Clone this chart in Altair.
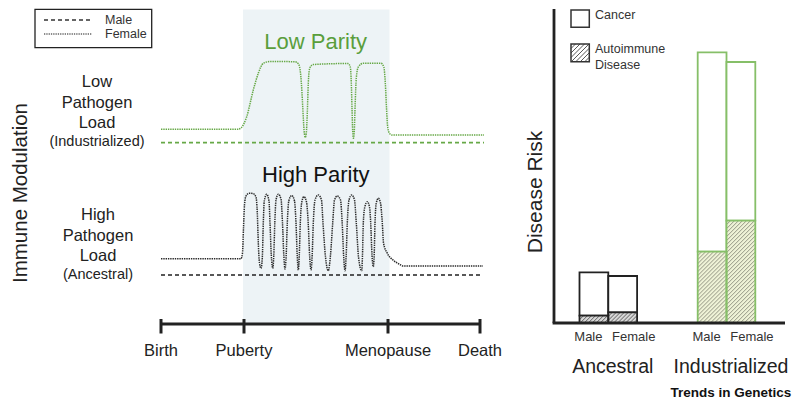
import altair as alt
import pandas as pd

FONT = "Arial, 'Liberation Sans', sans-serif"
GREEN_LINE = "#66a846"
GREEN_TEXT = "#5a9e3c"
GREEN_BAR = "#86bf68"
BLUE_SHADE = "#edf3f6"
DARK = "#222222"

W, H = 784, 391

# ---------------- Left panel data ----------------
# x: life-course position (arbitrary units), y: immune modulation level (arbitrary units)
stages = ["Birth", "Puberty", "Menopause", "Death"]
stage_pos = [0, 83, 227, 319]

low_male_x = [0, 323]
low_male_y = [180.3, 180.3]
low_female_x = [0, 77, 80, 85.7, 92.3, 97.3, 102.3, 109, 134, 137.5,
                139.5, 141, 142.3, 143.3, 144.3, 145.3, 146.3, 147.3, 148.8, 152.3,
                187, 189.3, 190.3, 191, 191.7, 192.5, 193.3, 194.2, 195.3, 197.3,
                202.3, 220, 222.8, 224.3, 225.5, 226.8, 229, 231, 323]
low_female_y = [193.7, 193.7, 195, 206.3, 233, 249.7, 259.7, 261.5, 261.3, 259,
                250, 230, 205, 190, 185.7, 190, 210, 240, 255, 258.5,
                259.5, 256, 240, 215, 192, 184.7, 192, 220, 245, 256,
                259.7, 259.7, 256, 240, 215, 195, 189, 188, 188]

high_male_x = [0, 322]
high_male_y = [48, 48]
high_female_x = [0, 80, 81.5, 82.5, 83.5, 85, 88, 92, 95, 96.3, 97.3, 98.5, 100,
                 101.3, 102.3, 103.3, 105.7, 108, 109, 110.3, 111.7,
                 112.8, 113.8, 115, 117.3, 120, 121.5, 122.8, 124,
                 125.2, 126.3, 127.8, 130.7, 133.5, 135, 136.2, 137.3,
                 138.3, 139.3, 140.8, 143, 145.5, 147.2, 148.7, 150,
                 151.2, 152.3, 154, 157.3, 160.5, 162, 164.5, 167.3,
                 169.5, 171.7, 173.5, 176.3, 179.5, 181.2, 182.7, 184,
                 185.2, 186.3, 188, 190.7, 193.5, 195.3, 197.5, 200.7,
                 201.5, 202.3, 203.8, 206.3, 208.5, 209.7, 211, 212.3,
                 213.2, 214, 215.3, 217.3, 219.5, 221.3, 222.5, 226.3, 232, 238, 242.3, 322]
high_female_y = [64.3, 64.3, 70, 95, 118, 127, 129.7, 129.5, 126, 110, 80, 60, 54.7,
                 65, 100, 122, 128.7, 122, 100, 68, 54.7,
                 68, 100, 123, 128.7, 124, 100, 68, 54,
                 68, 100, 122, 127.5, 122, 100, 68, 53,
                 68, 100, 121, 126.3, 121, 100, 66, 53,
                 68, 100, 123, 128, 123, 100, 66, 52.3,
                 68, 100, 123, 127, 123, 100, 66, 52.3,
                 68, 100, 123, 128, 123, 100, 66, 52.3,
                 68, 100, 116, 121.3, 116, 100, 68, 56.3,
                 68, 100, 120, 124.7, 120, 100, 80, 69.7, 63, 59, 57, 57]

low_load_label = ["Low", "Pathogen", "Load"]
low_load_sub = "(Industrialized)"
high_load_label = ["High", "Pathogen", "Load"]
high_load_sub = "(Ancestral)"

# ---------------- Right panel data ----------------
groups = ["Ancestral", "Industrialized"]
sexes = ["Male", "Female"]
autoimmune_risk = [7.3, 10.7, 71.3, 102.3]
cancer_risk = [43.4, 36.3, 199.4, 158.7]

# ---------------- Scales (layout) ----------------
LX = alt.Scale(domain=[-153, 631], nice=False, zero=False)
RX = alt.Scale(domain=[-546, 238], nice=False, zero=False)
YS = alt.Scale(domain=[-76, 315], nice=False, zero=False)


def X(s, f="x"):
    return alt.X(f"{f}:Q", scale=s, axis=None)


def Y(f="y"):
    return alt.Y(f"{f}:Q", scale=YS, axis=None)


def text_layer(xs_scale, xs, ys, texts, **kw):
    df = pd.DataFrame({"x": xs, "y": ys, "t": texts})
    return alt.Chart(df).mark_text(font=FONT, **kw).encode(x=X(xs_scale), y=Y(), text="t:N")


def line_layer(xs, ys, **kw):
    df = pd.DataFrame({"x": xs, "y": ys})
    return alt.Chart(df).mark_line(**kw).encode(x=X(LX), y=Y())


def rect_layer(xs_scale, df, **kw):
    return alt.Chart(df).mark_rect(**kw).encode(
        x=X(xs_scale, "x0"), x2=alt.X2("x1:Q"), y=Y("y0"), y2=alt.Y2("y1:Q"))


def hatch(x0, x1, y0, y1, step=4.0):
    segs = []
    c = x0 - y1
    while c < x1 - y0:
        xs = max(x0, y0 + c)
        xe = min(x1, y1 + c)
        if xe > xs:
            segs.append((xs, xs - c, xe, xe - c))
        c += step
    return segs


# ---------------- Left layers ----------------
left_layers = []
left_layers.append(rect_layer(LX, pd.DataFrame({"x0": [stage_pos[1] - 1], "x1": [stage_pos[2] + 1.5],
                                                 "y0": [0], "y1": [313.5]}), color=BLUE_SHADE))
# legend box
left_layers.append(rect_layer(LX, pd.DataFrame({"x0": [-126], "x1": [-9.3], "y0": [275.3], "y1": [313.7]}),
                              fill="white", stroke=DARK, strokeWidth=1.3))
left_layers.append(line_layer([-117, -69], [303, 303], color="#333", strokeDash=[4, 3], strokeWidth=1.3))
left_layers.append(line_layer([-117, -69], [289, 289], color="#666", strokeDash=[1.3, 1], strokeWidth=1.3))
left_layers.append(text_layer(LX, [-56, -56], [303, 289], ["Male", "Female"], fontSize=12.5,
                              align="left", baseline="middle", color="#333"))
# curves
left_layers.append(line_layer(low_male_x, low_male_y, color=GREEN_LINE, strokeDash=[4, 3], strokeWidth=1.7))
left_layers.append(line_layer(low_female_x, low_female_y, color=GREEN_LINE, strokeDash=[1.4, 0.9],
                              strokeWidth=1.5, interpolate="monotone"))
left_layers.append(line_layer(high_male_x, high_male_y, color="#222", strokeDash=[4, 3], strokeWidth=1.5))
left_layers.append(line_layer(high_female_x, high_female_y, color="#2a2a2a", strokeDash=[1.4, 0.9],
                              strokeWidth=1.5, interpolate="monotone"))
# timeline
tl = pd.DataFrame({"x": [stage_pos[0]], "x2": [stage_pos[-1]], "y": [-1]})
left_layers.append(alt.Chart(tl).mark_rule(color=DARK, strokeWidth=3).encode(
    x=X(LX), x2=alt.X2("x2:Q"), y=Y()))
ticks = pd.DataFrame({"x": stage_pos, "y": [4] * 4, "y2": [-10.5] * 4})
left_layers.append(alt.Chart(ticks).mark_rule(color=DARK, strokeWidth=3).encode(
    x=X(LX), y=Y(), y2=alt.Y2("y2:Q")))
left_layers.append(text_layer(LX, stage_pos, [-27.7] * 4, stages, fontSize=16.5,
                              align="center", baseline="middle", color="#222"))
# parity labels
left_layers.append(text_layer(LX, [154.7], [281.3], ["Low Parity"], fontSize=22,
                              align="center", baseline="middle", color=GREEN_TEXT))
left_layers.append(text_layer(LX, [154.8], [148], ["High Parity"], fontSize=22,
                              align="center", baseline="middle", color="#111"))
# pathogen load labels
left_layers.append(text_layer(LX, [-64] * 3, [241.3, 219.7, 199.7], low_load_label, fontSize=16.5,
                              align="center", baseline="middle", color="#222"))
left_layers.append(text_layer(LX, [-64], [181.3], [low_load_sub], fontSize=14.5,
                              align="center", baseline="middle", color="#222"))
left_layers.append(text_layer(LX, [-63] * 3, [108, 87, 67], high_load_label, fontSize=16.5,
                              align="center", baseline="middle", color="#222"))
left_layers.append(text_layer(LX, [-63], [48], [high_load_sub], fontSize=14.5,
                              align="center", baseline="middle", color="#222"))
left_layers.append(text_layer(LX, [-140], [130], ["Immune Modulation"], fontSize=20.5, angle=270,
                              align="center", baseline="middle", color="#222"))

# ---------------- Right layers ----------------
BAR_W = 28.8
FIRST = 25.5
GROUP_STEP = 118.2
rows = []
for gi, g in enumerate(groups):
    for si, s in enumerate(sexes):
        i = gi * 2 + si
        x0 = FIRST + gi * GROUP_STEP + si * BAR_W
        rows.append(dict(group=g, sex=s, x0=x0, x1=x0 + BAR_W,
                         a=autoimmune_risk[i], tot=autoimmune_risk[i] + cancer_risk[i],
                         stroke=DARK if gi == 0 else GREEN_BAR,
                         hfill="#d6d6d6" if gi == 0 else "#eef2d6",
                         hline="#555555" if gi == 0 else "#8a8c7c"))
bars = pd.DataFrame(rows)

right_layers = []
cancer_df = pd.DataFrame({"x0": bars.x0, "x1": bars.x1, "y0": bars.a, "y1": bars.tot,
                          "stroke": bars.stroke})
auto_df = pd.DataFrame({"x0": bars.x0, "x1": bars.x1, "y0": 0, "y1": bars.a,
                        "stroke": bars.stroke, "fill": bars.hfill})
right_layers.append(alt.Chart(cancer_df).mark_rect(fill="white", strokeWidth=1.8).encode(
    x=X(RX, "x0"), x2=alt.X2("x1:Q"), y=Y("y0"), y2=alt.Y2("y1:Q"),
    stroke=alt.Stroke("stroke:N", scale=None)))
right_layers.append(alt.Chart(auto_df).mark_rect().encode(
    x=X(RX, "x0"), x2=alt.X2("x1:Q"), y=Y("y0"), y2=alt.Y2("y1:Q"),
    fill=alt.Fill("fill:N", scale=None)))
hrows = []
for r in rows:
    for (xa, ya, xb, yb) in hatch(r["x0"], r["x1"], 0, r["a"]):
        hrows.append(dict(x=xa, y=ya, x2=xb, y2=yb, c=r["hline"]))
# legend square hatch
LEG_X0, LEG_X1 = 17, 35.3
for (xa, ya, xb, yb) in hatch(LEG_X0, LEG_X1, 261.3, 279, step=4.5):
    hrows.append(dict(x=xa, y=ya, x2=xb, y2=yb, c="#444444"))
hdf = pd.DataFrame(hrows)
right_layers.append(alt.Chart(hdf).mark_rule(strokeWidth=0.9).encode(
    x=X(RX), y=Y(), x2=alt.X2("x2:Q"), y2=alt.Y2("y2:Q"), color=alt.Color("c:N", scale=None)))
right_layers.append(alt.Chart(auto_df).mark_rect(fillOpacity=0, strokeWidth=1.8).encode(
    x=X(RX, "x0"), x2=alt.X2("x1:Q"), y=Y("y0"), y2=alt.Y2("y1:Q"),
    stroke=alt.Stroke("stroke:N", scale=None)))
# axes
right_layers.append(alt.Chart(pd.DataFrame({"x": [0], "y": [0], "y2": [314]})).mark_rule(
    color=DARK, strokeWidth=2.8).encode(x=X(RX), y=Y(), y2=alt.Y2("y2:Q")))
right_layers.append(alt.Chart(pd.DataFrame({"x": [-1.4], "x2": [231], "y": [0]})).mark_rule(
    color=DARK, strokeWidth=2.8).encode(x=X(RX), x2=alt.X2("x2:Q"), y=Y()))
# legend
right_layers.append(rect_layer(RX, pd.DataFrame({"x0": [LEG_X0, LEG_X0], "x1": [LEG_X1, LEG_X1],
                                                 "y0": [295.7, 261.3], "y1": [313, 279]}),
                               fillOpacity=0, stroke="#333", strokeWidth=1.5))
right_layers.append(text_layer(RX, [41, 41, 41], [308, 273.7, 258], ["Cancer", "Autoimmune", "Disease"],
                               fontSize=12.5, align="left", baseline="middle", color="#333"))
# labels
sex_off = {"Male": -5.5, "Female": 11}
right_layers.append(text_layer(RX, [(r["x0"] + r["x1"]) / 2 + sex_off[r["sex"]] for r in rows],
                               [-13.7] * 4, [r["sex"] for r in rows], fontSize=13,
                               align="center", baseline="middle", color="#333"))
right_layers.append(text_layer(RX, [FIRST + BAR_W + 4.5 + gi * GROUP_STEP for gi in range(2)],
                               [-43.7, -43.7], groups, fontSize=19.5,
                               align="center", baseline="middle", color="#222"))
right_layers.append(text_layer(RX, [-18], [131], ["Disease Risk"], fontSize=21, angle=270,
                               align="center", baseline="middle", color="#222"))
right_layers.append(text_layer(RX, [176.8], [-69.7], ["Trends in Genetics"], fontSize=13.5,
                               fontWeight="bold", align="center", baseline="middle", color="#111"))

left = alt.layer(*left_layers)
right = alt.layer(*right_layers)

chart = alt.layer(left, right).resolve_scale(x="independent").properties(
    width=W, height=H, autosize=alt.AutoSizeParams(type="none"), padding=0
).configure_view(stroke=None)

chart.save("out.html", embed_options={"renderer": "svg", "actions": False})
